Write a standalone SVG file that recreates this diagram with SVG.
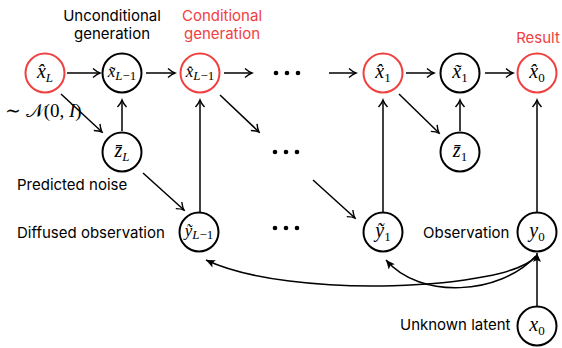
<svg xmlns="http://www.w3.org/2000/svg" width="562" height="348" viewBox="0 0 562 348">
<style>
.n{fill:#fff;stroke:#000;stroke-width:2}
.r{stroke:#ef4141}
.lab{font-family:Inter,"Noto Sans","Liberation Sans",sans-serif;font-size:15px;fill:#000}
.red{fill:#ef4141}
.m{font-family:"Liberation Serif","DejaVu Serif",serif;font-style:italic;font-size:20px;fill:#000;text-anchor:middle}
.sm{font-size:17px}
.sub{font-size:13px}
.up{font-style:normal}
.e{stroke:#000;stroke-width:1.5;fill:none}
.dot{fill:#000}
</style>
<defs>
<marker id="ah" markerWidth="12" markerHeight="12" viewBox="-10 -6 12 12" refX="0" refY="0" orient="auto" markerUnits="userSpaceOnUse">
<path d="M-7,-4.5 Q-3,-1 0,0 Q-3,1 -7,4.5" fill="none" stroke="#000" stroke-width="1.4"/>
</marker>
<marker id="fh" markerWidth="12" markerHeight="12" viewBox="-10 -6 12 12" refX="0" refY="0" orient="auto" markerUnits="userSpaceOnUse">
<path d="M-9,-4 L0,0 L-9,4 L-7,0 Z" fill="#000"/>
</marker>
</defs>
<rect width="562" height="348" fill="#fff"/>
<g id="labels">
<text class="lab" x="112" y="21" text-anchor="middle">Unconditional</text>
<text class="lab" x="112" y="39" text-anchor="middle">generation</text>
<text class="lab red" x="222" y="21" text-anchor="middle">Conditional</text>
<text class="lab red" x="222" y="39" text-anchor="middle">generation</text>
<text class="lab red" x="538" y="43" text-anchor="middle">Result</text>
<text x="5" y="117" font-family="'Liberation Serif','DejaVu Serif',serif" font-size="19"><tspan>∼ </tspan><tspan font-family="'DejaVu Sans','Noto Sans',serif">𝒩</tspan><tspan>(0, </tspan><tspan font-style="italic">I</tspan><tspan>)</tspan></text>
<text class="lab" x="17" y="190">Predicted noise</text>
<text class="lab" x="17" y="238">Diffused observation</text>
<text class="lab" x="423" y="238">Observation</text>
<text class="lab" x="400" y="330">Unknown latent</text>
</g>
<g id="connectors">
<line class="e" x1="67" y1="73" x2="100" y2="73" marker-end="url(#ah)"/>
<line class="e" x1="146" y1="73" x2="175" y2="73" marker-end="url(#ah)"/>
<line class="e" x1="224" y1="73" x2="252" y2="73" marker-end="url(#ah)"/>
<line class="e" x1="329" y1="73" x2="356" y2="73" marker-end="url(#ah)"/>
<line class="e" x1="406" y1="73" x2="434" y2="73" marker-end="url(#ah)"/>
<line class="e" x1="485" y1="73" x2="513" y2="73" marker-end="url(#ah)"/>
<line class="e" x1="122" y1="131" x2="122" y2="100" marker-end="url(#ah)"/>
<line class="e" x1="200" y1="212" x2="200" y2="100" marker-end="url(#ah)"/>
<line class="e" x1="383" y1="212" x2="383" y2="100" marker-end="url(#ah)"/>
<line class="e" x1="460" y1="131" x2="460" y2="100" marker-end="url(#ah)"/>
<line class="e" x1="537" y1="212" x2="537" y2="100" marker-end="url(#ah)"/>
<line class="e" x1="61" y1="94" x2="102" y2="132" marker-end="url(#ah)"/>
<line class="e" x1="143" y1="173" x2="184" y2="210" marker-end="url(#ah)"/>
<line class="e" x1="220" y1="95" x2="259" y2="132" marker-end="url(#ah)"/>
<line class="e" x1="313" y1="180" x2="355" y2="218" marker-end="url(#ah)"/>
<line class="e" x1="399" y1="94" x2="439" y2="133" marker-end="url(#ah)"/>
<line class="e" x1="537" y1="306" x2="537" y2="253" marker-end="url(#fh)"/>
<path class="e" d="M536,256 C510,290 290,300 206,260" marker-end="url(#fh)"/>
<path class="e" d="M536,256 C500,295 420,300 386,260" marker-end="url(#fh)"/>
</g>
<g id="dots">
<circle class="dot" cx="276" cy="73" r="2.3"/><circle class="dot" cx="287" cy="73" r="2.3"/><circle class="dot" cx="298" cy="73" r="2.3"/>
<circle class="dot" cx="275" cy="152" r="2.3"/><circle class="dot" cx="286" cy="152" r="2.3"/><circle class="dot" cx="297" cy="152" r="2.3"/>
<circle class="dot" cx="275" cy="228" r="2.3"/><circle class="dot" cx="286" cy="228" r="2.3"/><circle class="dot" cx="297" cy="228" r="2.3"/>
</g>
<g id="xhatL"><circle class="n r" cx="45" cy="73" r="19.5"/><text class="m red" x="45" y="78">x̂<tspan class="sub" dy="4">L</tspan></text></g>
<g id="xtildeLm1"><circle class="n" cx="122" cy="73" r="19.5"/><text class="m sm" x="122" y="77">x̃<tspan class="sub" dy="3">L</tspan><tspan class="sub up">−1</tspan></text></g>
<g id="xhatLm1"><circle class="n r" cx="200" cy="73" r="19.5"/><text class="m sm red" x="200" y="77">x̂<tspan class="sub" dy="3">L</tspan><tspan class="sub up">−1</tspan></text></g>
<g id="xhat1"><circle class="n r" cx="383" cy="73" r="19.5"/><text class="m red" x="383" y="78">x̂<tspan class="sub up" dy="4">1</tspan></text></g>
<g id="xtilde1"><circle class="n" cx="460" cy="73" r="19.5"/><text class="m" x="460" y="78">x̃<tspan class="sub up" dy="4">1</tspan></text></g>
<g id="xhat0"><circle class="n r" cx="537" cy="73" r="19.5"/><text class="m red" x="537" y="78">x̂<tspan class="sub up" dy="4">0</tspan></text></g>
<g id="zbarL"><circle class="n" cx="122" cy="152" r="19.5"/><text class="m" x="122" y="157">z̄<tspan class="sub" dy="4">L</tspan></text></g>
<g id="zbar1"><circle class="n" cx="460" cy="152" r="19.5"/><text class="m" x="460" y="157">z̄<tspan class="sub up" dy="4">1</tspan></text></g>
<g id="ytildeLm1"><circle class="n" cx="199" cy="232" r="19.5"/><text class="m sm" x="199" y="236">ỹ<tspan class="sub" dy="3">L</tspan><tspan class="sub up">−1</tspan></text></g>
<g id="ytilde1"><circle class="n" cx="383" cy="232" r="19.5"/><text class="m" x="383" y="237">ỹ<tspan class="sub up" dy="4">1</tspan></text></g>
<g id="y0"><circle class="n" cx="537" cy="232" r="19.5"/><text class="m" x="537" y="237">y<tspan class="sub up" dy="4">0</tspan></text></g>
<g id="x0"><circle class="n" cx="537" cy="326" r="19.5"/><text class="m" x="537" y="331">x<tspan class="sub up" dy="4">0</tspan></text></g>
</svg>
